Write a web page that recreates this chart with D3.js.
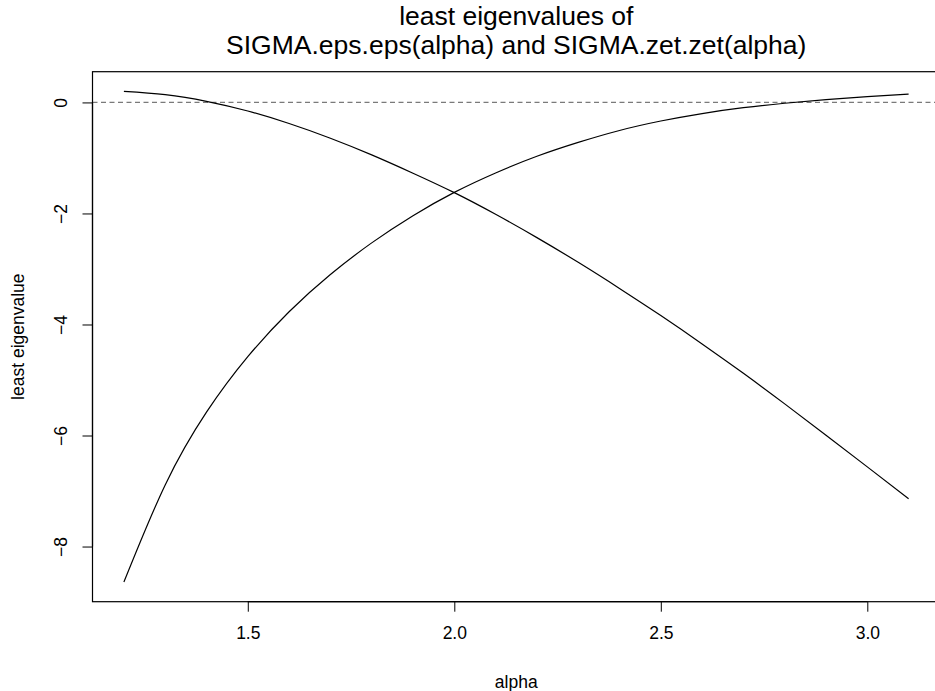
<!DOCTYPE html>
<html>
<head>
<meta charset="utf-8">
<script src="https://cdn.jsdelivr.net/npm/d3@7"></script>
<style>
  html, body { margin: 0; padding: 0; background: #fff; }
  svg { display: block; font-family: "Liberation Sans", Arial, Helvetica, sans-serif; }
</style>
</head>
<body>
<svg id="chart" width="935" height="691"></svg>
<script>
// ---- data ----
const alpha = [1.2, 1.3, 1.4, 1.5, 1.6, 1.7, 1.8, 1.9, 2.0, 2.1, 2.2, 2.3, 2.4, 2.5, 2.6, 2.7, 2.8, 2.9, 3.0, 3.1];
const leastEigEps = [0.20, 0.14, 0.02, -0.155, -0.38, -0.645, -0.945, -1.275, -1.625, -2.015, -2.435, -2.88, -3.35, -3.84, -4.35, -4.88, -5.43, -5.995, -6.565, -7.14];
const leastEigZet = [-8.64, -6.89, -5.58, -4.58, -3.77, -3.10, -2.53, -2.04, -1.62, -1.27, -0.97, -0.72, -0.505, -0.335, -0.20, -0.095, -0.015, 0.05, 0.105, 0.15];
const xTicks = [1.5, 2.0, 2.5, 3.0];
const yTicks = [-8, -6, -4, -2, 0];
const titleLines = ["least eigenvalues of", "SIGMA.eps.eps(alpha) and SIGMA.zet.zet(alpha)"];
const xLabel = "alpha";
const yLabel = "least eigenvalue";
const refLine = 0;

// ---- layout ----
const svg = d3.select("#chart");
const plot = { left: 92.5, right: 940, top: 71.7, bottom: 601.7 };
const fs = 17.5, fsTitle = 26.5;

function padded(ext) { const d = (ext[1] - ext[0]) * 0.04; return [ext[0] - d, ext[1] + d]; }
const x = d3.scaleLinear().domain(padded(d3.extent(alpha))).range([plot.left, plot.right]);
const yExt = d3.extent(leastEigEps.concat(leastEigZet));
const y = d3.scaleLinear().domain(padded(yExt)).range([plot.bottom, plot.top]);

// reference dashed line
svg.append("line")
  .attr("x1", plot.left).attr("x2", plot.right)
  .attr("y1", y(refLine)).attr("y2", y(refLine))
  .attr("stroke", "#7a7a7a").attr("stroke-width", 1.3)
  .attr("stroke-dasharray", "5,3.5");

// curves
const line = d3.line().x((d, i) => x(alpha[i])).y(d => y(d)).curve(d3.curveNatural);
[leastEigEps, leastEigZet].forEach(s => {
  svg.append("path").datum(s).attr("d", line)
    .attr("fill", "none").attr("stroke", "#000").attr("stroke-width", 1.2);
});

// box
svg.append("rect")
  .attr("x", plot.left).attr("y", plot.top)
  .attr("width", plot.right - plot.left).attr("height", plot.bottom - plot.top)
  .attr("fill", "none").attr("stroke", "#000").attr("stroke-width", 1.2);

// x axis
const gx = svg.append("g").attr("transform", `translate(0,${plot.bottom})`)
  .call(d3.axisBottom(x).tickValues(xTicks).tickFormat(d3.format(".1f")).tickSize(10).tickPadding(15).tickSizeOuter(0));
gx.select(".domain").attr("d", `M${x(xTicks[0])},0H${x(xTicks[xTicks.length-1])}`).attr("stroke", "#000").attr("stroke-width", 1.2);
gx.selectAll(".tick line").attr("stroke", "#000");
gx.selectAll(".tick text").attr("font-size", fs).attr("fill", "#000");
gx.attr("font-family", null);

// y axis
const gy = svg.append("g").attr("transform", `translate(${plot.left},0)`)
  .call(d3.axisLeft(y).tickValues(yTicks).tickFormat(d => d < 0 ? "\u2212" + Math.abs(d) : String(d)).tickSize(10).tickSizeOuter(0));
gy.select(".domain").attr("d", `M0,${y(yTicks[0])}V${y(yTicks[yTicks.length-1])}`).attr("stroke", "#000").attr("stroke-width", 1.2);
gy.selectAll(".tick line").attr("stroke", "#000");
gy.selectAll(".tick text")
  .attr("x", null).attr("dy", null)
  .attr("transform", "translate(-25.8,0) rotate(-90)")
  .attr("text-anchor", "middle")
  .attr("font-size", fs).attr("fill", "#000");
gy.attr("font-family", null);

// labels
const cx = (plot.left + plot.right) / 2;
const cy = (plot.top + plot.bottom) / 2;
svg.append("text").attr("x", cx).attr("y", 688).attr("text-anchor", "middle")
  .attr("font-size", fs).text(xLabel);
svg.append("text").attr("transform", `translate(24,${cy}) rotate(-90)`).attr("text-anchor", "middle")
  .attr("font-size", fs).text(yLabel);

// title
svg.append("text").attr("x", cx).attr("y", 25).attr("text-anchor", "middle")
  .attr("font-size", fsTitle).text(titleLines[0]);
svg.append("text").attr("x", cx).attr("y", 54).attr("text-anchor", "middle")
  .attr("font-size", fsTitle).text(titleLines[1]);
</script>
</body>
</html>
